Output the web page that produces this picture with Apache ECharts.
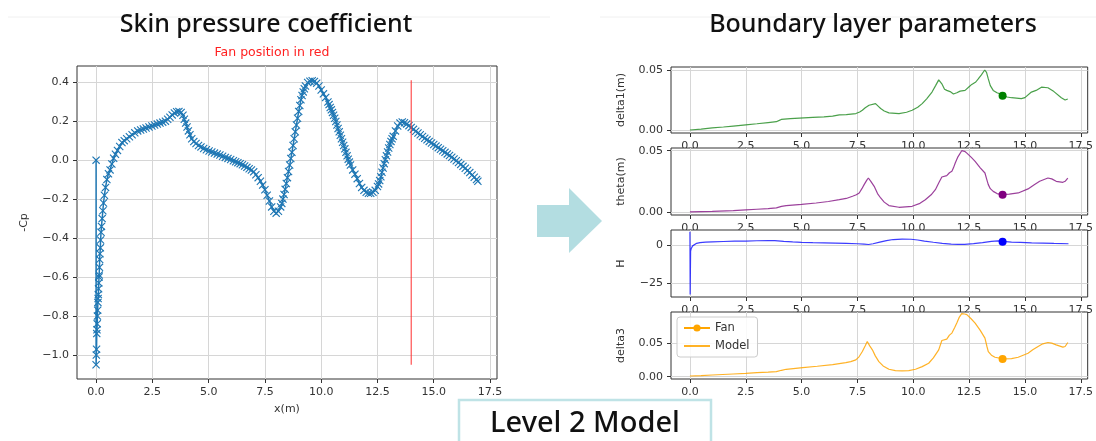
<!DOCTYPE html>
<html>
<head>
<meta charset="utf-8">
<script src="https://cdn.jsdelivr.net/npm/echarts@6/dist/echarts.min.js"></script>
<style>html,body{margin:0;padding:0;background:#fff}#c{width:1096px;height:441px}</style>
</head>
<body>
<div id="c"></div>
<script>
// ---------- DATA ----------
const xTicks = [0, 2.5, 5, 7.5, 10, 12.5, 15, 17.5];
const cpTicks = [-1.0, -0.8, -0.6, -0.4, -0.2, 0, 0.2, 0.4];
const deltaTicks = [0, 0.05];
const hTicks = [-25, 0];
const fanX = 14.0;
const fanCpRange = [-1.05, 0.41];

// -Cp along the skin (x, -Cp)
const cpPoints = [
[0,0],[0.0,-1.05],[0.01,-1.0],[0.02,-0.97],[0.03,-0.89],[0.04,-0.87],[0.05,-0.84],[0.06,-0.8],[0.07,-0.77],[0.08,-0.73],
[0.09,-0.71],[0.1,-0.69],[0.11,-0.66],[0.12,-0.63],[0.13,-0.6],[0.14,-0.59],[0.15,-0.55],[0.16,-0.51],[0.17,-0.48],[0.19,-0.45],
[0.2,-0.41],[0.22,-0.37],[0.24,-0.34],[0.27,-0.3],[0.3,-0.26],[0.33,-0.22],[0.37,-0.18],[0.42,-0.14],[0.48,-0.1],[0.55,-0.07],
[0.62,-0.05],[0.7,-0.02],[0.78,0.01],[0.86,0.03],[0.95,0.05],[1.05,0.07],[1.15,0.09],[1.25,0.1],[1.36,0.11],[1.48,0.12],
[1.6,0.13],[1.72,0.14],[1.85,0.15],[1.98,0.155],[2.1,0.16],[2.22,0.165],[2.35,0.17],[2.48,0.175],[2.6,0.18],[2.72,0.185],
[2.84,0.19],[2.96,0.195],[3.08,0.2],[3.18,0.21],[3.28,0.22],[3.38,0.232],[3.48,0.242],[3.58,0.248],[3.68,0.25],[3.78,0.245],
[3.86,0.23],[3.92,0.21],[3.98,0.19],[4.04,0.17],[4.1,0.15],[4.17,0.13],[4.25,0.11],[4.34,0.095],[4.44,0.085],[4.55,0.075],
[4.66,0.068],[4.78,0.06],[4.9,0.053],[5.02,0.047],[5.14,0.042],[5.26,0.036],[5.38,0.031],[5.5,0.026],[5.62,0.02],[5.74,0.014],
[5.86,0.009],[5.98,0.003],[6.1,-0.003],[6.2,-0.008],[6.3,-0.013],[6.4,-0.018],[6.5,-0.024],[6.6,-0.03],[6.7,-0.037],[6.8,-0.044],
[6.9,-0.051],[7.0,-0.06],[7.1,-0.075],[7.2,-0.09],[7.3,-0.108],[7.4,-0.128],[7.5,-0.152],[7.6,-0.18],[7.7,-0.21],[7.8,-0.24],
[7.9,-0.262],[8.0,-0.272],[8.1,-0.262],[8.2,-0.24],[8.25,-0.222],[8.3,-0.2],[8.35,-0.176],[8.4,-0.15],[8.45,-0.12],[8.5,-0.09],
[8.55,-0.058],[8.6,-0.025],[8.65,0.008],[8.7,0.04],[8.75,0.075],[8.8,0.11],[8.85,0.145],[8.9,0.18],[8.95,0.215],[9.0,0.25],
[9.05,0.28],[9.1,0.31],[9.15,0.332],[9.2,0.35],[9.25,0.366],[9.3,0.38],[9.4,0.398],[9.5,0.405],[9.6,0.407],[9.7,0.404],
[9.8,0.395],[9.9,0.38],[10.0,0.36],[10.1,0.34],[10.2,0.322],[10.3,0.298],[10.35,0.285],[10.4,0.27],[10.45,0.258],[10.5,0.245],
[10.55,0.23],[10.6,0.215],[10.65,0.198],[10.7,0.18],[10.75,0.162],[10.8,0.145],[10.85,0.128],[10.9,0.11],[10.95,0.092],[11.0,0.075],
[11.05,0.058],[11.1,0.04],[11.15,0.022],[11.2,0.005],[11.25,-0.01],[11.3,-0.025],[11.4,-0.05],[11.5,-0.072],[11.6,-0.095],[11.7,-0.12],
[11.8,-0.14],[11.9,-0.155],[12.0,-0.165],[12.1,-0.17],[12.2,-0.17],[12.3,-0.165],[12.4,-0.155],[12.5,-0.135],[12.55,-0.122],[12.6,-0.105],
[12.65,-0.085],[12.7,-0.062],[12.75,-0.04],[12.8,-0.018],[12.85,0.002],[12.9,0.022],[12.95,0.042],[13.0,0.062],[13.05,0.08],[13.1,0.096],
[13.15,0.11],[13.2,0.122],[13.3,0.15],[13.4,0.175],[13.5,0.19],[13.6,0.196],[13.7,0.192],[13.8,0.185],[13.9,0.177],[14.0,0.168],
[14.1,0.158],[14.2,0.148],[14.3,0.139],[14.4,0.13],[14.5,0.121],[14.6,0.112],[14.7,0.104],[14.8,0.096],[14.9,0.088],[15.0,0.08],
[15.1,0.072],[15.2,0.064],[15.3,0.056],[15.4,0.048],[15.5,0.04],[15.6,0.032],[15.7,0.024],[15.8,0.015],[15.9,0.006],[16.0,-0.003],
[16.1,-0.012],[16.2,-0.022],[16.3,-0.032],[16.4,-0.042],[16.5,-0.053],[16.6,-0.064],[16.7,-0.076],[16.8,-0.088],[16.9,-0.1],[16.96,-0.108]
];

const delta1Points = [
[0,0],[0.5,0.0008],[1,0.0017],[1.5,0.0025],[1.94,0.0033],[2.5,0.0043],[3,0.0052],[3.5,0.0062],[3.87,0.0069],[4.0,0.008],
[4.09,0.0088],[4.5,0.0094],[4.9,0.0099],[5.5,0.0106],[6.0,0.011],[6.39,0.0115],[6.69,0.0126],[7.0,0.0128],[7.43,0.0137],[7.6,0.015],
[7.72,0.0165],[7.85,0.0185],[8.02,0.0206],[8.31,0.022],[8.45,0.0195],[8.54,0.0179],[8.7,0.0158],[8.91,0.0143],[9.36,0.0137],[9.7,0.0148],
[9.95,0.0165],[10.2,0.019],[10.4,0.022],[10.6,0.026],[10.84,0.0316],[11.0,0.037],[11.14,0.0418],[11.22,0.041],[11.28,0.0385],[11.4,0.034],
[11.5,0.033],[11.65,0.032],[11.8,0.030],[11.95,0.031],[12.1,0.0324],[12.32,0.033],[12.5,0.036],[12.62,0.038],[12.8,0.040],[12.91,0.0426],
[13.05,0.046],[13.2,0.05],[13.28,0.048],[13.36,0.0426],[13.45,0.037],[13.58,0.033],[13.75,0.031],[13.95,0.0297],[14.2,0.0275],[14.4,0.0269],
[14.84,0.0261],[15.0,0.027],[15.29,0.0316],[15.5,0.033],[15.74,0.0357],[16.03,0.0352],[16.3,0.032],[16.63,0.0269],[16.8,0.025],[16.92,0.0258]
];

const thetaPoints = [
[0,0],[0.5,0.0003],[1,0.0005],[1.94,0.0011],[2.5,0.0017],[3,0.0022],[3.5,0.0027],[3.87,0.0033],[4.1,0.0045],[4.31,0.0052],
[5.0,0.0062],[5.65,0.0073],[6.2,0.0085],[6.69,0.010],[7.0,0.011],[7.28,0.0128],[7.45,0.014],[7.58,0.0155],[7.7,0.019],[7.8,0.0223],
[7.92,0.026],[7.99,0.0277],[8.1,0.025],[8.25,0.0209],[8.4,0.015],[8.54,0.0114],[8.7,0.008],[8.91,0.0052],[9.36,0.0038],[9.95,0.0046],
[10.3,0.007],[10.54,0.010],[10.8,0.014],[10.99,0.0182],[11.15,0.024],[11.28,0.0285],[11.5,0.0296],[11.62,0.032],[11.73,0.0332],[11.8,0.036],
[11.88,0.040],[12.0,0.045],[12.17,0.050],[12.3,0.0495],[12.4,0.048],[12.6,0.0445],[12.77,0.0413],[13.0,0.036],[13.21,0.0318],[13.3,0.026],
[13.36,0.0223],[13.45,0.019],[13.58,0.0168],[13.75,0.015],[13.95,0.0141],[14.3,0.0145],[14.7,0.0155],[15.14,0.0188],[15.4,0.022],[15.66,0.025],
[16.03,0.0277],[16.2,0.027],[16.4,0.025],[16.7,0.0242],[16.8,0.025],[16.92,0.0277]
];

const hPoints = [
[0,8.8],[0.01,-32.7],[0.03,-4],[0.06,-2.2],[0.12,-0.5],[0.2,0.5],[0.3,1.2],[0.45,1.7],[0.7,2.0],[1.0,2.2],
[1.5,2.4],[2.0,2.6],[2.5,2.7],[3.0,2.9],[3.5,3.0],[3.8,3.0],[4.2,2.5],[4.6,2.1],[5.0,1.8],[5.5,1.6],
[6.0,1.5],[6.5,1.3],[7.0,1.1],[7.5,0.9],[7.8,0.6],[8.0,0.4],[8.2,0.9],[8.5,2.0],[8.8,3.0],[9.1,3.7],
[9.5,4.0],[9.9,3.9],[10.2,3.4],[10.5,2.7],[10.9,1.9],[11.3,1.2],[11.7,0.7],[12.0,0.45],[12.3,0.5],[12.7,1.0],
[13.1,1.7],[13.5,2.5],[13.8,2.8],[14.0,2.5],[14.4,2.0],[14.8,1.8],[15.3,1.5],[15.8,1.3],[16.3,1.1],[16.95,0.9]
];

const delta3Points = [
[0,0.001],[0.5,0.0015],[1,0.0025],[1.94,0.004],[2.5,0.005],[3,0.006],[3.5,0.0068],[3.87,0.0075],[4.1,0.0095],[4.31,0.011],
[5.05,0.0135],[5.7,0.0155],[6.39,0.018],[6.98,0.021],[7.2,0.0225],[7.43,0.025],[7.58,0.03],[7.72,0.0375],[7.85,0.046],[7.94,0.0525],
[8.05,0.046],[8.17,0.04],[8.3,0.031],[8.46,0.0225],[8.65,0.016],[8.91,0.011],[9.2,0.009],[9.5,0.0085],[9.8,0.009],[10.1,0.011],
[10.4,0.015],[10.69,0.02],[10.9,0.028],[11.14,0.04],[11.28,0.054],[11.5,0.056],[11.62,0.062],[11.73,0.065],[11.85,0.073],[11.95,0.08],
[12.05,0.088],[12.17,0.094],[12.3,0.0935],[12.4,0.0925],[12.6,0.086],[12.77,0.08],[13.0,0.069],[13.21,0.0575],[13.3,0.045],[13.36,0.0375],
[13.5,0.032],[13.66,0.029],[14.03,0.0265],[14.4,0.027],[14.7,0.029],[15.14,0.035],[15.35,0.04],[15.59,0.045],[15.8,0.049],[16.03,0.051],
[16.2,0.05],[16.4,0.0475],[16.7,0.044],[16.8,0.045],[16.92,0.051]
];

const fanDelta1 = 0.0285;
const fanTheta = 0.0141;
const fanH = 2.2;
const fanDelta3 = 0.0265;

// ---------- CHART ----------
const chart = echarts.init(document.getElementById('c'), null, {renderer: 'canvas'});

const FONT = 'DejaVu Sans';
const fmt = (d) => (v) => {
  let s = (Math.abs(v) < 1e-12 ? 0 : v).toFixed(d);
  return s.replace('-', '\u2212');
};
const XMARK = 'path://M0,1L1,0L5,4L9,0L10,1L6,5L10,9L9,10L5,6L1,10L0,9L4,5Z';

const gridLine = {show: true, lineStyle: {color: '#d6d6d6', width: 1}};
const tickStyle = {show: true, inside: false, length: 4, lineStyle: {color: '#333', width: 1}};
const labelStyle = {color: '#333', fontFamily: FONT, fontSize: 11};

function xAxisDef(gi, z) {
  return {
    type: 'value', gridIndex: gi, min: -0.848, max: 17.81, z: z, position: 'bottom',
    axisLine: {show: false, onZero: false},
    axisTick: Object.assign({}, tickStyle, {customValues: xTicks}),
    axisLabel: Object.assign({}, labelStyle, {customValues: xTicks, formatter: fmt(1), margin: 8}),
    splitLine: gridLine
  };
}
function yAxisDef(gi, z, min, max, ticks, dec, name) {
  return {
    type: 'value', gridIndex: gi, min: min, max: max, z: z, position: 'left',
    name: name, nameLocation: 'middle', nameGap: 44, nameRotate: 90,
    nameTextStyle: {color: '#333', fontFamily: FONT, fontSize: 11},
    axisLine: {show: false, onZero: false},
    axisTick: Object.assign({}, tickStyle, {customValues: ticks}),
    axisLabel: Object.assign({}, labelStyle, {customValues: ticks, formatter: fmt(dec), margin: 8}),
    splitLine: gridLine
  };
}

const gridBase = {show: true, backgroundColor: '#fff', borderColor: '#333', borderWidth: 1, containLabel: false};
const grids = [
  Object.assign({}, gridBase, {left: 77, top: 66, width: 420, height: 313, z: 0}),
  Object.assign({}, gridBase, {left: 671, top: 67, width: 419, height: 66, z: 10}),
  Object.assign({}, gridBase, {left: 671, top: 148, width: 419, height: 67, z: 20}),
  Object.assign({}, gridBase, {left: 671, top: 230, width: 419, height: 67, z: 30}),
  Object.assign({}, gridBase, {left: 671, top: 312, width: 419, height: 67, z: 40})
];

const xAxes = [0,1,2,3,4].map(i => xAxisDef(i, i * 10));
xAxes[0].name = 'x(m)';
xAxes[0].nameLocation = 'middle';
xAxes[0].nameGap = 25;
xAxes[0].nameTextStyle = {color: '#333', fontFamily: FONT, fontSize: 11};

const yAxes = [
  yAxisDef(0, 0, -1.123, 0.483, cpTicks, 1, '-Cp'),
  yAxisDef(1, 10, -0.0025, 0.0525, deltaTicks, 2, 'delta1(m)'),
  yAxisDef(2, 20, -0.0025, 0.0522, deltaTicks, 2, 'theta(m)'),
  yAxisDef(3, 30, -34.3, 10, hTicks, 0, 'H'),
  yAxisDef(4, 40, -0.0035, 0.0965, deltaTicks, 2, 'delta3')
];
yAxes[0].nameGap = 47;

function modelLine(gi, data, color, name) {
  return {
    type: 'line', name: name, xAxisIndex: gi, yAxisIndex: gi, data: data, z: gi * 10 + 2,
    symbol: 'none', smooth: false, lineStyle: {color: color, width: 1.2, opacity: 0.85},
    itemStyle: {color: color}, silent: true
  };
}
function fanDot(gi, y, color, name) {
  return {
    type: 'line', name: name, xAxisIndex: gi, yAxisIndex: gi, data: [[fanX, y]], z: gi * 10 + 3,
    symbol: 'circle', symbolSize: 8, showSymbol: true, lineStyle: {color: color, width: 1.5},
    itemStyle: {color: color}, silent: true
  };
}

const series = [
  {
    type: 'line', name: 'Cp', xAxisIndex: 0, yAxisIndex: 0, data: cpPoints, z: 2,
    symbol: XMARK, symbolSize: 8, showAllSymbol: true, showSymbol: true,
    lineStyle: {color: '#1f77b4', width: 1.5}, itemStyle: {color: '#1f77b4'}, silent: true
  },
  {
    type: 'line', name: 'fanLine', xAxisIndex: 0, yAxisIndex: 0, z: 3,
    data: [[fanX, fanCpRange[0]], [fanX, fanCpRange[1]]],
    symbol: 'none', lineStyle: {color: '#ff3333', width: 1.2, opacity: 0.85}, silent: true
  },
  modelLine(1, delta1Points, '#2a8f2a', 'd1'),
  fanDot(1, fanDelta1, '#008000', 'fd1'),
  modelLine(2, thetaPoints, '#8a1f8a', 'th'),
  fanDot(2, fanTheta, '#800080', 'fth'),
  modelLine(3, hPoints, '#1a1aff', 'h'),
  fanDot(3, fanH, '#0000ff', 'fh'),
  fanDot(4, fanDelta3, '#ffa500', 'Fan'),
  modelLine(4, delta3Points, '#ffa500', 'Model')
];

const option = {
  animation: false,
  backgroundColor: '#fff',
  grid: grids,
  xAxis: xAxes,
  yAxis: yAxes,
  series: series,
  legend: {
    data: [
      {name: 'Fan'},
      {name: 'Model', itemStyle: {color: 'rgba(0,0,0,0)', borderWidth: 0, opacity: 0}}
    ],
    orient: 'vertical', left: 677, top: 317, z: 60,
    backgroundColor: 'rgba(255,255,255,0.85)', borderColor: '#cccccc', borderWidth: 1, borderRadius: 3,
    padding: [5, 8, 5, 6], itemGap: 6, itemWidth: 26, itemHeight: 9,
    textStyle: {color: '#333', fontFamily: FONT, fontSize: 11.5},
    selectedMode: false
  },
  graphic: [
    {type: 'line', shape: {x1: 8, y1: 17, x2: 550, y2: 17}, style: {stroke: '#f0f0f0', lineWidth: 1}, z: -1},
    {type: 'line', shape: {x1: 600, y1: 17, x2: 1096, y2: 17}, style: {stroke: '#f0f0f0', lineWidth: 1}, z: -1},
    {type: 'text', x: 266, y: 25, style: {text: 'Skin pressure coefficient', font: '500 25px "Noto Sans"', fill: '#111', textAlign: 'center', textVerticalAlign: 'middle'}},
    {type: 'text', x: 272, y: 53, style: {text: 'Fan position in red', font: '12.5px "DejaVu Sans"', fill: '#ff2020', textAlign: 'center', textVerticalAlign: 'middle'}},
    {type: 'text', x: 873, y: 25, style: {text: 'Boundary layer parameters', font: '500 25px "Noto Sans"', fill: '#111', textAlign: 'center', textVerticalAlign: 'middle'}},
    {type: 'polygon', shape: {points: [[537,205],[569,205],[569,188],[602,221],[569,253],[569,237],[537,237]]}, style: {fill: '#b3dde1'}},
    {type: 'rect', shape: {x: 459, y: 400, width: 252, height: 50}, style: {fill: '#fff', stroke: '#bfe3e6', lineWidth: 2.5}, z: 50},
    {type: 'text', x: 585, y: 424, style: {text: 'Level 2 Model', font: '500 29px "Noto Sans"', fill: '#111', textAlign: 'center', textVerticalAlign: 'middle'}, z: 51}
  ]
};
chart.setOption(option);
</script>
</body>
</html>
